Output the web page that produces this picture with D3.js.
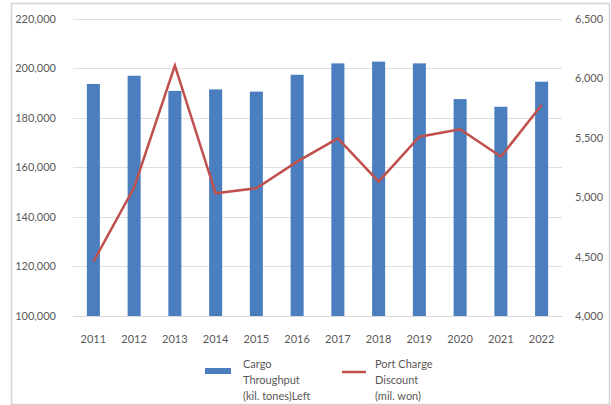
<!DOCTYPE html>
<html>
<head>
<meta charset="utf-8">
<script src="https://cdn.jsdelivr.net/npm/d3@7"></script>
<style>
  html, body { margin: 0; padding: 0; background: #fff; }
  svg { display: block; }
  text { font-family: Lato, "Liberation Sans", sans-serif; fill: #595959; }
</style>
</head>
<body>
<svg id="chart" width="611" height="405"></svg>
<script>
// Annual cargo throughput (bars, left axis) and port charge discount (line, right axis)
const years = ["2011","2012","2013","2014","2015","2016","2017","2018","2019","2020","2021","2022"];
const cargoThroughput = [193600, 196900, 190800, 191400, 190500, 197300, 201900, 202600, 201900, 187500, 184400, 194500];
const portChargeDiscount = [4456, 5080, 6105, 5031, 5073, 5297, 5493, 5129, 5507, 5569, 5339, 5773];
const leftTicks = [100000, 120000, 140000, 160000, 180000, 200000, 220000];
const rightTicks = [4000, 4500, 5000, 5500, 6000, 6500];
const legendBars = ["Cargo", "Throughput", "(kil. tones)Left"];
const legendLine = ["Port Charge", "Discount", "(mil. won)"];

const svg = d3.select("#chart");
const W = 611, H = 405;
const plot = { left: 73, right: 562, top: 18.5, bottom: 316 };
const FONT = "Lato, Liberation Sans, sans-serif";

// chart frame
svg.append("rect")
  .attr("x", 11.5).attr("y", 3.5)
  .attr("width", W - 13).attr("height", H - 4)
  .attr("fill", "none").attr("stroke", "#d4d4d4").attr("stroke-width", 1.5);

const x = d3.scaleBand().domain(years).range([plot.left, plot.right]).paddingInner(0.68).paddingOuter(0.34);
const yL = d3.scaleLinear().domain([100000, 220000]).range([plot.bottom, plot.top]);
const yR = d3.scaleLinear().domain([4000, 6500]).range([plot.bottom, plot.top]);

// gridlines
svg.append("g").selectAll("line").data(leftTicks).join("line")
  .attr("x1", plot.left).attr("x2", plot.right)
  .attr("y1", d => Math.round(yL(d)) + 0.5).attr("y2", d => Math.round(yL(d)) + 0.5)
  .attr("stroke", "#dedede").attr("stroke-width", 1);

// left axis
const fmt = d3.format(",");
const leftAxis = svg.append("g").attr("transform", `translate(${plot.left - 17},0)`)
  .call(d3.axisLeft(yL).tickValues(leftTicks).tickFormat(fmt).tickSize(0).tickPadding(0));
leftAxis.select(".domain").remove();
leftAxis.selectAll("text").attr("font-size", 11).attr("fill", "#595959").attr("font-family", FONT);

// right axis
const rightAxis = svg.append("g").attr("transform", `translate(${plot.right + 13},0)`)
  .call(d3.axisRight(yR).tickValues(rightTicks).tickFormat(fmt).tickSize(0).tickPadding(0));
rightAxis.select(".domain").remove();
rightAxis.selectAll("text").attr("font-size", 11).attr("fill", "#595959").attr("font-family", FONT);

// bars
svg.append("g").selectAll("rect").data(years).join("rect")
  .attr("x", d => x(d))
  .attr("width", x.bandwidth())
  .attr("y", (d, i) => yL(cargoThroughput[i]))
  .attr("height", (d, i) => yL(100000) - yL(cargoThroughput[i]))
  .attr("fill", "#4a7ebf");

// category axis
const bottomAxis = svg.append("g").attr("transform", `translate(0,${plot.bottom})`)
  .call(d3.axisBottom(x).tickSize(0).tickPadding(19));
bottomAxis.select(".domain").attr("stroke", "#d9d9d9");
bottomAxis.selectAll("text").attr("font-size", 11).attr("fill", "#595959").attr("font-family", FONT);

// discount line
const line = d3.line()
  .x((d, i) => x(years[i]) + x.bandwidth() / 2)
  .y(d => yR(d));
svg.append("path").datum(portChargeDiscount)
  .attr("d", line)
  .attr("fill", "none").attr("stroke", "#c0504d").attr("stroke-width", 2.5)
  .attr("stroke-linejoin", "miter");

// legend
const lg = svg.append("g");
lg.append("rect").attr("x", 205).attr("y", 368).attr("width", 26).attr("height", 6).attr("fill", "#4a7ebf");
lg.append("g").selectAll("text").data(legendBars).join("text")
  .attr("x", 243).attr("y", (d, i) => 368 + i * 16)
  .attr("font-size", 11).text(d => d);
lg.append("line").attr("x1", 342).attr("x2", 366).attr("y1", 372).attr("y2", 372)
  .attr("stroke", "#c0504d").attr("stroke-width", 2.5);
lg.append("g").selectAll("text").data(legendLine).join("text")
  .attr("x", 375).attr("y", (d, i) => 368 + i * 16)
  .attr("font-size", 11).text(d => d);
</script>
</body>
</html>
